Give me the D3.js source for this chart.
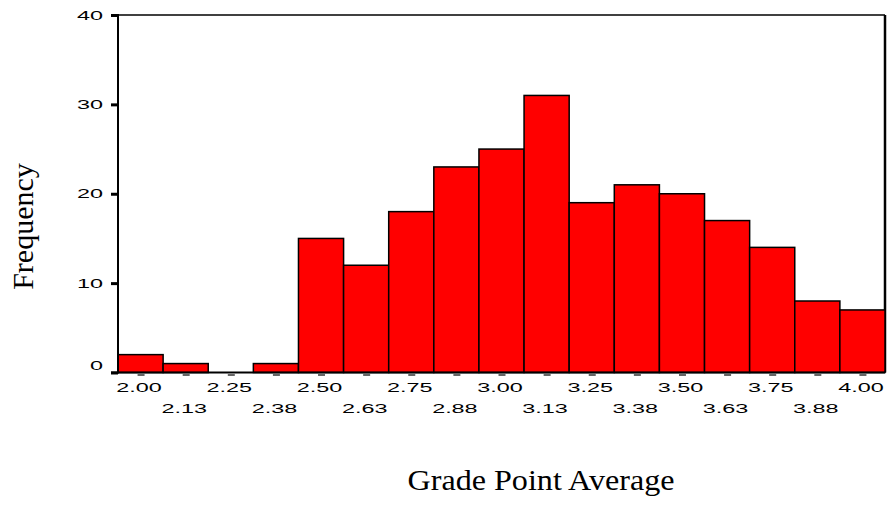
<!DOCTYPE html>
<html>
<head>
<meta charset="utf-8">
<script src="https://cdn.jsdelivr.net/npm/d3@7"></script>
<style>
html,body{margin:0;padding:0;background:#fff;}
svg{display:block;}
</style>
</head>
<body>
<script>
// ---- data ----
const binCenters = [2.00,2.125,2.25,2.375,2.50,2.625,2.75,2.875,3.00,3.125,3.25,3.375,3.50,3.625,3.75,3.875,4.00];
const binLabels = ["2.00","2.13","2.25","2.38","2.50","2.63","2.75","2.88","3.00","3.13","3.25","3.38","3.50","3.63","3.75","3.88","4.00"];
const frequencies = [2,1,0,1,15,12,18,23,25,31,19,21,20,17,14,8,7];
const yTicks = [0,10,20,30,40];
const binWidth = 0.125;
const xTitle = "Grade Point Average";
const yTitle = "Frequency";

// ---- layout ----
const W = 887, H = 506;
const pLeft = 118, pRight = 885, pTop = 15, pBottom = 372.5;
const stretch = 1.8;

const svg = d3.select("body").append("svg").attr("width", W).attr("height", H);

const x = d3.scaleLinear()
  .domain([binCenters[0] - binWidth/2, binCenters[binCenters.length-1] + binWidth/2])
  .range([pLeft, pRight]);
const y = d3.scaleLinear().domain([0, 40]).range([pBottom, pTop]);

// frame: top & right
svg.append("line").attr("x1", pLeft).attr("x2", pRight).attr("y1", pTop).attr("y2", pTop)
  .attr("stroke", "#000").attr("stroke-width", 1.3);
svg.append("line").attr("x1", pRight).attr("x2", pRight).attr("y1", pTop).attr("y2", pBottom)
  .attr("stroke", "#000").attr("stroke-width", 2.5);

// bars
svg.append("g").selectAll("rect").data(frequencies).join("rect")
  .attr("x", (d,i) => x(binCenters[i] - binWidth/2))
  .attr("width", (d,i) => x(binCenters[i] + binWidth/2) - x(binCenters[i] - binWidth/2))
  .attr("y", d => y(d))
  .attr("height", d => y(0) - y(d))
  .attr("fill", "#ff0000")
  .attr("stroke", "#000")
  .attr("stroke-width", 1.5);

// y axis
const yAxis = d3.axisLeft(y).tickValues(yTicks).tickSize(7).tickFormat("");
const gy = svg.append("g").attr("transform", `translate(${pLeft},0)`).call(yAxis);
gy.select(".domain").remove();
gy.selectAll(".tick line").attr("stroke", "#000").attr("stroke-width", 3);
svg.append("line").attr("x1", pLeft).attr("x2", pLeft).attr("y1", pTop - 1).attr("y2", pBottom + 1)
  .attr("stroke", "#000").attr("stroke-width", 2);

// y labels
svg.append("g").selectAll("g").data(yTicks).join("g")
  .attr("transform", d => `translate(103,${y(d) + (d === 0 ? -7 : 0)}) scale(${stretch},1)`)
  .append("text")
  .attr("text-anchor", "end")
  .attr("dy", "0.36em")
  .attr("font-family", "Liberation Sans, Arial, sans-serif")
  .attr("font-size", 13)
  .attr("fill", "#000")
  .text(d => d);

// x axis ticks (small dashes)
const xAxis = d3.axisBottom(x).tickValues(binCenters).tickSize(2).tickSizeOuter(0).tickFormat("");
const gx = svg.append("g").attr("transform", `translate(0,${pBottom + 1.5})`).call(xAxis);
gx.select(".domain").remove();
gx.selectAll(".tick line").attr("stroke", "#666").attr("stroke-width", 7);
// baseline
svg.append("line").attr("x1", pLeft - 7).attr("x2", pRight).attr("y1", pBottom).attr("y2", pBottom)
  .attr("stroke", "#000").attr("stroke-width", 1.8);

// x labels (two staggered rows)
svg.append("g").selectAll("g").data(binLabels).join("g")
  .attr("transform", (d,i) => `translate(${x(binCenters[i]) - 1.5},${i % 2 === 0 ? 391.5 : 412.5}) scale(${stretch},1)`)
  .append("text")
  .attr("text-anchor", "middle")
  .attr("font-family", "Liberation Sans, Arial, sans-serif")
  .attr("font-size", 13)
  .attr("fill", "#000")
  .text(d => d);

// titles
svg.append("text")
  .attr("x", 541).attr("y", 490)
  .attr("text-anchor", "middle")
  .attr("font-family", "Liberation Serif, Times New Roman, serif")
  .attr("font-size", 29)
  .attr("textLength", 267)
  .attr("lengthAdjust", "spacingAndGlyphs")
  .attr("fill", "#000")
  .text(xTitle);

svg.append("text")
  .attr("transform", "translate(33,226.5) rotate(-90)")
  .attr("text-anchor", "middle")
  .attr("font-family", "Liberation Serif, Times New Roman, serif")
  .attr("font-size", 30)
  .attr("fill", "#000")
  .text(yTitle);
</script>
</body>
</html>
